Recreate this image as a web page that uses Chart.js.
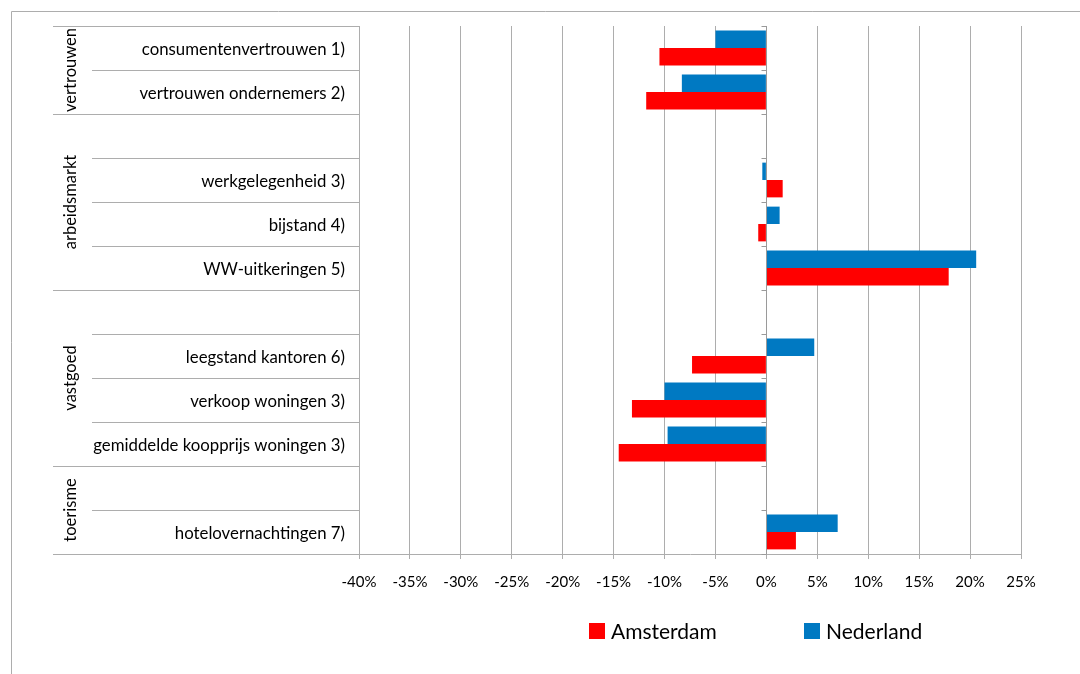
<!DOCTYPE html>
<html>
<head>
<meta charset="utf-8">
<script src="https://cdn.jsdelivr.net/npm/chart.js@4.4.1/dist/chart.umd.min.js"></script>
<style>
  body { margin: 0; background: #fff; }
  #wrap { position: relative; width: 1080px; height: 674px; }
  .legend { position: absolute; top: 618px; font: 21px Lato, sans-serif; color: #000; display: flex; align-items: center; }
  .legend i { display: inline-block; width: 16px; height: 16px; margin-right: 6px; }
</style>
</head>
<body>
<div id="wrap">
  <canvas id="chart" width="1080" height="674"></canvas>
  <div class="legend" style="left:589px"><i style="background:#FF0000"></i>Amsterdam</div>
  <div class="legend" style="left:804px"><i style="background:#0079C2"></i>Nederland</div>
</div>
<script>
// categories (empty rows separate the groups)
const categories = [
  'consumentenvertrouwen 1)', 'vertrouwen ondernemers 2)', '',
  'werkgelegenheid 3)', 'bijstand 4)', 'WW-uitkeringen 5)', '',
  'leegstand kantoren 6)', 'verkoop woningen 3)', 'gemiddelde koopprijs woningen 3)', '',
  'hotelovernachtingen 7)'
];
const groupNames = ['vertrouwen', 'arbeidsmarkt', 'vastgoed', 'toerisme'];
const groupSizes = [2, 4, 4, 2];

// % change
const nederland = [-5.0, -8.3, null, -0.4, 1.3, 20.6, null, 4.7, -10.0, -9.7, null, 7.0];
const amsterdam = [-10.5, -11.8, null, 1.6, -0.8, 17.9, null, -7.3, -13.2, -14.5, null, 2.9];

const xTicks = [-40, -35, -30, -25, -20, -15, -10, -5, 0, 5, 10, 15, 20, 25];

const FONT = 'Lato, sans-serif';
const GRID = '#ADADAD';

// draws the outer frame, the two-level category grid on the left and the zero axis
const labelArea = {
  id: 'labelArea',
  afterDatasetsDraw(chart) {
    const ctx = chart.ctx;
    const area = chart.chartArea;
    const n = categories.length;
    const rowH = (area.bottom - area.top) / n;
    ctx.save();
    ctx.lineWidth = 1;
    ctx.strokeStyle = GRID;

    // outer frame
    ctx.beginPath();
    ctx.moveTo(11.5, 674);
    ctx.lineTo(11.5, 11.5);
    ctx.lineTo(1080, 11.5);
    ctx.stroke();

    // group edges
    const edges = new Set([0]);
    let acc = 0;
    groupSizes.forEach(s => { acc += s; edges.add(acc); });

    for (let i = 0; i <= n; i++) {
      const yy = Math.round(area.top + i * rowH) + 0.5;
      const x0 = edges.has(i) ? 53 : 92;
      ctx.beginPath();
      ctx.moveTo(x0, yy);
      ctx.lineTo(area.left, yy);
      ctx.stroke();
    }

    // group names, rotated
    ctx.fillStyle = '#000';
    ctx.font = '16.5px ' + FONT;
    ctx.textAlign = 'center';
    ctx.textBaseline = 'middle';
    let start = 0;
    groupNames.forEach((name, g) => {
      const mid = area.top + (start + groupSizes[g] / 2) * rowH;
      ctx.save();
      ctx.translate(71, mid);
      ctx.rotate(-Math.PI / 2);
      ctx.fillText(name, 0, 0);
      ctx.restore();
      start += groupSizes[g];
    });

    // vertical axis at 0 with tick marks
    const xz = Math.round(chart.scales.x.getPixelForValue(0)) + 0.5;
    ctx.strokeStyle = '#9A9A9A';
    ctx.beginPath();
    ctx.moveTo(xz, area.top);
    ctx.lineTo(xz, area.bottom);
    for (let i = 0; i <= n; i++) {
      const yy = Math.round(area.top + i * rowH) + 0.5;
      ctx.moveTo(xz - 5, yy);
      ctx.lineTo(xz, yy);
    }
    ctx.stroke();
    ctx.restore();
  }
};

new Chart(document.getElementById('chart'), {
  type: 'bar',
  data: {
    labels: categories,
    datasets: [
      { label: 'Nederland', data: nederland, backgroundColor: '#0079C2' },
      { label: 'Amsterdam', data: amsterdam, backgroundColor: '#FF0000' }
    ]
  },
  options: {
    indexAxis: 'y',
    responsive: false,
    animation: false,
    categoryPercentage: 0.79,
    barPercentage: 1.0,
    layout: { padding: { left: 0, top: 26, right: 59, bottom: 0 } },
    plugins: { legend: { display: false }, tooltip: { enabled: false } },
    scales: {
      x: {
        min: -40,
        max: 25,
        afterBuildTicks: (scale) => { scale.ticks = xTicks.map(v => ({ value: v })); },
        afterFit: (scale) => { scale.height = 120; },
        grid: { color: GRID, tickLength: 5 },
        border: { color: GRID },
        ticks: {
          padding: 14,
          color: '#000',
          font: { family: FONT, size: 15 },
          callback: (v) => v + '%'
        }
      },
      y: {
        afterFit: (scale) => { scale.width = 359; },
        grid: { display: false, drawTicks: false },
        border: { display: false },
        ticks: {
          padding: 14,
          labelOffset: 2,
          color: '#000',
          autoSkip: false,
          font: { family: FONT, size: 16.8 }
        }
      }
    }
  },
  plugins: [labelArea]
});
</script>
</body>
</html>
